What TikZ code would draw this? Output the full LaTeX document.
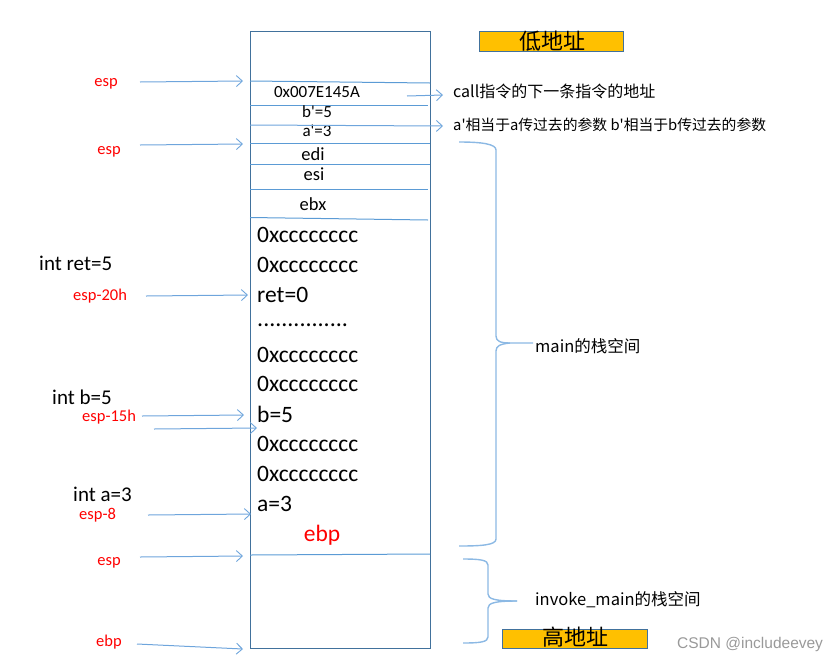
\documentclass[tikz,border=0pt]{standalone}
\usepackage{fontspec}
\setmainfont{Carlito}
\newfontfamily\cjk{Noto Sans CJK SC}
\newfontfamily\wmfont{Liberation Sans}
\usetikzlibrary{arrows.meta}
\definecolor{rectc}{RGB}{65,113,156}
\definecolor{linec}{RGB}{91,155,213}
\definecolor{arrc}{RGB}{110,165,220}
\definecolor{bracec}{RGB}{140,185,228}
\definecolor{labred}{RGB}{255,0,0}
\definecolor{orangec}{RGB}{255,192,0}
\newcommand{\fs}[1]{\fontsize{#1}{#1}\selectfont}
\newcommand{\apo}{\textquotesingle}
\tikzset{
  sep/.style={draw=linec, line width=1pt},
  arr/.style={draw=arrc, line width=1pt, -{Straight Barb[length=6pt,width=11pt,line width=0.9pt]}},
  brc/.style={draw=bracec, line width=1.4pt},
  redlbl/.style={text=labred, inner sep=0pt, font=\fs{16.5}},
  declbl/.style={text=black, inner sep=0pt, anchor=west, font=\fs{21}},
  bigcell/.style={inner sep=0pt, anchor=west, font=\fs{23.5}},
  smallcell/.style={inner sep=0pt, font=\fs{17}},
  midcell/.style={inner sep=0pt, font=\fs{18.5}},
  addrbox/.style={draw=rectc, fill=orangec, line width=1pt, inner sep=0pt},
  note/.style={inner sep=0pt, anchor=west, font=\cjk\fs{16}},
}
\begin{document}
\begin{tikzpicture}[x=1pt,y=-1pt]
\useasboundingbox (0,0) rectangle (840,662);
% stack rectangle
\draw[draw=rectc, line width=1pt] (250,31) rectangle (430,648);
\coordinate (L1) at (250,81); \coordinate (R1) at (430,83);
\coordinate (L2) at (250,105); \coordinate (R2) at (428,105);
\coordinate (L4) at (250,143); \coordinate (R4) at (430,143);
\coordinate (L5) at (250,164); \coordinate (R5) at (430,164);
\coordinate (L6) at (250,189); \coordinate (R6) at (428,189);
\coordinate (L7) at (250,217.5); \coordinate (R7) at (428,220);
\coordinate (L8) at (250,555); \coordinate (R8) at (430,554);
\draw[sep] (L1) -- (R1);
\draw[sep] (L2) -- (R2);
\draw[sep] (L4) -- (R4);
\draw[sep] (L5) -- (R5);
\draw[sep] (L6) -- (R6);
\draw[sep] (L7) -- (R7);
\draw[sep] (L8) -- (R8);
% cells
\node[smallcell] (c1) at (317,92) {0x007E145A};
\node[smallcell] (c2) at (317,112) {b\apo=5};
\node[smallcell] (c3) at (317,131) {a\apo=3};
\node[midcell] (c4) at (313,154) {edi};
\node[midcell] (c5) at (314,174) {esi};
\node[midcell] (c6) at (313,204) {ebx};
\node[bigcell] (r1) at (257,235) {0xcccccccc};
\node[bigcell] (r2) at (257,265) {0xcccccccc};
\node[bigcell] (r3) at (257,295) {ret=0};
\node[bigcell] (r4) at (257,325) {\fs{24}...............};
\node[bigcell] (r5) at (257,355) {0xcccccccc};
\node[bigcell] (r6) at (257,384) {0xcccccccc};
\node[bigcell] (r7) at (257,414) {b=5};
\node[bigcell] (r8) at (257,444) {0xcccccccc};
\node[bigcell] (r9) at (257,474) {0xcccccccc};
\node[bigcell] (r10) at (257,504) {a=3};
\node[inner sep=0pt, text=labred, font=\fs{23.5}] (r11) at (322,535) {ebp};
% left labels
\node[redlbl] (e1) at (106,84) {esp};
\node[redlbl] (e2) at (109,152) {esp};
\node[declbl] (d1) at (39,263) {int ret=5};
\node[redlbl, anchor=west] (e3) at (73,296) {esp-20h};
\node[declbl] (d2) at (52,397) {int b=5};
\node[redlbl, anchor=west] (e4) at (82,417) {esp-15h};
\node[declbl] (d3) at (73,494) {int a=3};
\node[redlbl, anchor=west] (e5) at (79,515) {esp-8};
\node[redlbl] (e6) at (109,563) {esp};
\node[redlbl] (e7) at (109,642) {ebp};
% left arrows
\coordinate (a1s) at (140,82); \coordinate (a1e) at (243,81);
\coordinate (a2s) at (140,145); \coordinate (a2e) at (243,144);
\coordinate (a3s) at (146,296); \coordinate (a3e) at (248,295);
\coordinate (a4s) at (142,416); \coordinate (a4e) at (244,415);
\coordinate (a5s) at (154,429); \coordinate (a5e) at (257,428);
\coordinate (a6s) at (148,515); \coordinate (a6e) at (251,514);
\coordinate (a7s) at (140,557); \coordinate (a7e) at (243,556);
\coordinate (a8s) at (137,644); \coordinate (a8e) at (243,649);
\draw[arr] (a1s) -- (a1e);
\draw[arr] (a2s) -- (a2e);
\draw[arr] (a3s) -- (a3e);
\draw[arr] (a4s) -- (a4e);
\draw[arr] (a5s) -- (a5e);
\draw[arr] (a6s) -- (a6e);
\draw[arr] (a7s) -- (a7e);
\draw[arr] (a8s) -- (a8e);
% right notes
\node[addrbox, minimum width=144pt, minimum height=20pt] (low) at (551,41.5) {};
\node[inner sep=0pt, font=\cjk\fs{22}] (lowt) at (552,41) {低地址};
\node[addrbox, minimum width=145pt, minimum height=19pt] (high) at (574.5,638.5) {};
\node[inner sep=0pt, font=\cjk\fs{22}] (hight) at (575,637.5) {高地址};
\node[note] (n1) at (453,91) {call指令的下一条指令的地址};
\node[note, font=\cjk\fs{14.8}] (n2) at (453,125) {a\apo 相当于a传过去的参数 b\apo 相当于b传过去的参数};
\coordinate (b1s) at (407,96); \coordinate (b1e) at (443,95);
\coordinate (b2s) at (250,125); \coordinate (b2e) at (443,126);
\draw[arr] (b1s) -- (b1e);
\draw[arr] (b2s) -- (b2e);
% braces
\node[note, font=\cjk\fs{16.5}] (m1) at (535,346) {main的栈空间};
\node[note, font=\cjk\fs{16.5}] (m2) at (535,600) {invoke\_main的栈空间};
\coordinate (t1) at (533,343);
\draw[brc] (459,142) .. controls (482,142) and (496,144) .. (496,150) -- (496,336)
  .. controls (496,341) and (500,343) .. (510,343) -- (t1);
\draw[brc] (510,343) .. controls (500,344) and (496,346) .. (496,351) -- (496,539)
  .. controls (496,545) and (482,546) .. (459,546);
\coordinate (t2) at (517,601);
\draw[brc] (463,559) .. controls (480,559) and (488,560) .. (488,565) -- (488,594)
  .. controls (488,599) and (495,601) .. (t2);
\draw[brc] (t2) .. controls (495,601) and (488,603) .. (488,608) -- (488,637)
  .. controls (488,642) and (480,643) .. (463,643);
% watermark
\node[inner sep=0pt, anchor=west, text=black!40, font=\wmfont\fs{15.5}] (wm) at (677,644) {CSDN @includeevey};
\end{tikzpicture}
\end{document}
